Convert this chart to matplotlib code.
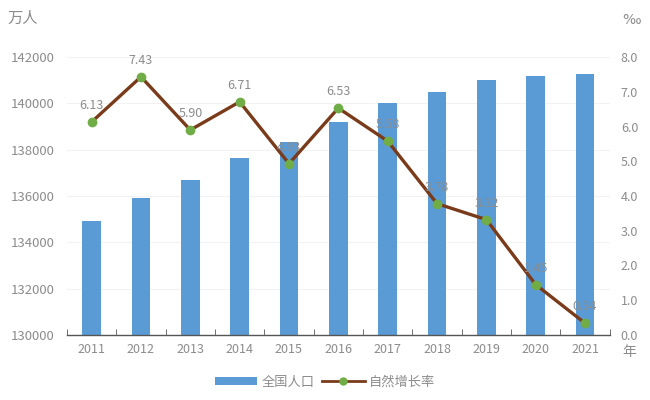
import matplotlib
matplotlib.use("Agg")
import matplotlib.pyplot as plt
from matplotlib.lines import Line2D
from matplotlib.patches import Patch

plt.rcParams['font.family'] = ['Noto Sans CJK SC', 'DejaVu Sans']

years = ['2011', '2012', '2013', '2014', '2015', '2016', '2017', '2018', '2019', '2020', '2021']
population = [134900, 135900, 136700, 137650, 138350, 139200, 140000, 140500, 141000, 141200, 141250]
growth = [6.13, 7.43, 5.90, 6.71, 4.93, 6.53, 5.58, 3.78, 3.32, 1.45, 0.34]
left_ticks = [130000, 132000, 134000, 136000, 138000, 140000, 142000]
right_ticks = [0.0, 1.0, 2.0, 3.0, 4.0, 5.0, 6.0, 7.0, 8.0]

bar_color = '#5B9BD5'
line_color = '#7A3B1A'
marker_color = '#70AD47'
text_color = '#8C8C8C'

fig = plt.figure(figsize=(6.5, 4), dpi=100)
ax = fig.add_axes([0.103, 0.1625, 0.835, 0.695])
x = list(range(len(years)))
ax.bar(x, population, width=0.38, color=bar_color, zorder=2)
ax.set_ylim(130000, 142000)
ax.set_xlim(-0.5, len(years) - 0.5)
ax.set_yticks(left_ticks)
ax.set_yticklabels([str(t) for t in left_ticks])
ax.set_xticks(x)
ax.set_xticklabels(years)
ax.set_xticks([i - 0.5 for i in range(len(years) + 1)], minor=True)
ax.tick_params(axis='x', which='major', length=0, colors=text_color, labelsize=9, pad=6)
ax.tick_params(axis='x', which='minor', length=4, direction='in', color='#555555')
ax.tick_params(axis='y', length=0, colors=text_color, labelsize=9.5, pad=9)
ax.grid(axis='y', color='#F2F2F2', linewidth=0.8, zorder=0)
for s in ['top', 'right', 'left']:
    ax.spines[s].set_visible(False)
ax.spines['bottom'].set_color('#555555')
ax.spines['bottom'].set_linewidth(1.0)

ax2 = ax.twinx()
ax2.plot(x, growth, color=line_color, linewidth=2.4, marker='o', markersize=6,
         markerfacecolor=marker_color, markeredgecolor=marker_color, zorder=3)
ax2.set_ylim(0, 8)
ax2.set_yticks(right_ticks)
ax2.set_yticklabels([f'{t:.1f}' for t in right_ticks])
ax2.tick_params(axis='y', length=0, colors=text_color, labelsize=9, pad=8)
for s in ['top', 'right', 'left', 'bottom']:
    ax2.spines[s].set_visible(False)

for xi, g in zip(x, growth):
    ax2.annotate(f'{g:.2f}', (xi, g), xytext=(0, 7), textcoords='offset points',
                 ha='center', va='bottom', fontsize=9, color=text_color)

fig.text(0.012, 0.955, '万人', fontsize=11, color=text_color, ha='left', va='center')
fig.text(0.958, 0.95, '‰', fontsize=10, color=text_color, ha='left', va='center', family=['DejaVu Sans'])
fig.text(0.958, 0.12, '年', fontsize=10, color=text_color, ha='left', va='center')

handles = [Patch(facecolor=bar_color, edgecolor='none'),
           Line2D([0], [0], color=line_color, linewidth=2, marker='o', markersize=5,
                  markerfacecolor=marker_color, markeredgecolor=marker_color)]
fig.legend(handles, ['全国人口', '自然增长率'], loc='center', bbox_to_anchor=(0.5, 0.045),
           ncol=2, frameon=False, fontsize=9.5, labelcolor=text_color,
           handlelength=3.2, handleheight=0.5, columnspacing=0.6, handletextpad=0.3)

fig.savefig('out.png', dpi=100)
